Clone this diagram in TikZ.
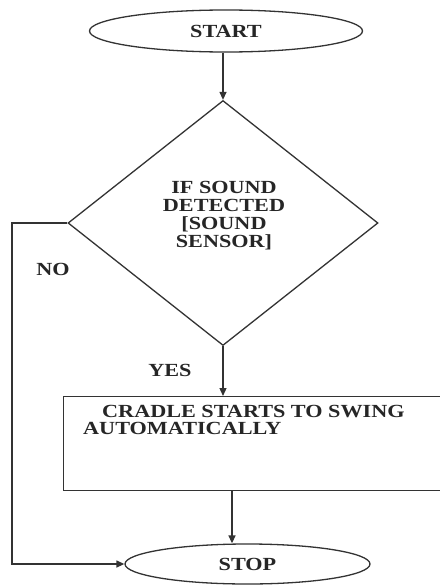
\documentclass[tikz,border=0pt]{standalone}
\usepackage{fontspec}
\setmainfont{Liberation Serif}[FakeStretch=1.2]
\usetikzlibrary{shapes.geometric,arrows.meta}
\begin{document}
\begin{tikzpicture}[x=1pt,y=-1pt,
  ln/.style={draw=black!80, line width=1.3pt},
  arr/.style={ln, -{Triangle[length=8pt,width=7pt]}},
  lbl/.style={font=\fontsize{18.5}{18}\selectfont\bfseries, text=black!85, inner sep=0pt}]
\useasboundingbox[fill=white] (0,0) rectangle (439,586);
\node[ellipse, ln, minimum width=273pt, minimum height=42pt, inner sep=0pt, lbl] (start) at (226,31) {START};
\node[diamond, ln, minimum width=310pt, minimum height=245pt, aspect=1.265, inner sep=0pt] (dec) at (223,223) {};
\node[lbl, align=center] (dtext) at (224,216) {IF SOUND\\DETECTED\\{[}SOUND\\SENSOR]};
\node[rectangle, ln, minimum width=390pt, minimum height=94pt, anchor=north west, inner sep=0pt] (box) at (63,396) {};
\node[lbl, anchor=base west] (btext1) at (102,417) {CRADLE STARTS TO SWING};
\node[lbl, anchor=base west] (btext2) at (83,434) {AUTOMATICALLY};
\node[ellipse, ln, minimum width=245pt, minimum height=40pt, inner sep=0pt, lbl] (stop) at (247.5,564) {STOP};
\node[lbl] (no) at (53,269) {NO};
\node[lbl] (yes) at (170,370) {YES};
\coordinate (nl) at (12,223);
\coordinate (bx) at ([xshift=169pt]box.south west);
\draw[arr] (dec.north |- start.south) -- (dec.north);
\draw[arr] (dec.south) -- (dec.south |- box.north);
\draw[arr] (bx) -- (bx |- stop.north);
\draw[arr] (dec.west) -- (nl) |- (stop.west);
\end{tikzpicture}
\end{document}
